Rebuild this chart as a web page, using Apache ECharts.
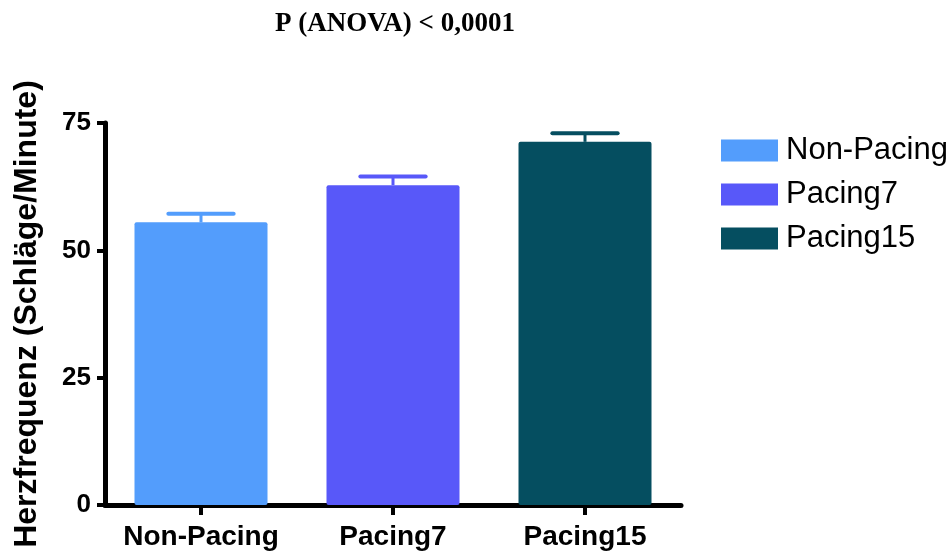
<!DOCTYPE html>
<html>
<head>
<meta charset="utf-8">
<script src="https://cdn.jsdelivr.net/npm/echarts@6/dist/echarts.min.js"></script>
<style>html,body{margin:0;padding:0;background:#fff}#chart{width:951px;height:551px}</style>
</head>
<body>
<div id="chart"></div>
<script>
var categories = ['Non-Pacing', 'Pacing7', 'Pacing15'];
var means = [55.5, 62.8, 71.3];
var sem = [1.7, 1.7, 1.7];
var yTicks = [0, 25, 50, 75];
var titleText = 'P (ANOVA) < 0,0001';
var yAxisName = 'Herzfrequenz (Schläge/Minute)';

var colors = ['#539dfc', '#5858f9', '#054e60'];

var chart = echarts.init(document.getElementById('chart'), null, {renderer: 'canvas'});

var barSeries = categories.map(function (name, i) {
  return {
    name: name,
    type: 'bar',
    barWidth: 133,
    barGap: '-100%',
    itemStyle: {color: colors[i], borderRadius: 2},
    data: means.map(function (v, j) { return j === i ? v : '-'; }),
    z: 2
  };
});

var errSeries = {
  type: 'custom',
  name: 'err',
  z: 3,
  data: categories.map(function (c, i) { return [i, means[i], means[i] + sem[i]]; }),
  renderItem: function (params, api) {
    var idx = api.value(0);
    var p0 = api.coord([idx, api.value(1)]);
    var p1 = api.coord([idx, api.value(2)]);
    var half = api.size([1, 0])[0] * 0.17;
    var c = colors[idx];
    return {
      type: 'group',
      children: [
        {type: 'line', shape: {x1: p0[0], y1: p0[1], x2: p1[0], y2: p1[1]}, style: {stroke: c, lineWidth: 3}},
        {type: 'line', shape: {x1: p1[0] - half, y1: p1[1], x2: p1[0] + half, y2: p1[1]}, style: {stroke: c, lineWidth: 4, lineCap: 'round'}}
      ]
    };
  }
};

chart.setOption({
  animation: false,
  backgroundColor: '#ffffff',
  title: {
    text: titleText,
    left: 270,
    top: 6,
    textStyle: {fontFamily: 'Liberation Serif', fontWeight: 'bold', fontSize: 27, color: '#000'}
  },
  legend: {
    orient: 'vertical',
    left: 716,
    top: 130,
    itemWidth: 57,
    itemHeight: 22,
    itemGap: 13,
    icon: 'rect',
    data: categories,
    textStyle: {fontFamily: 'Liberation Sans', fontSize: 31, color: '#000', padding: [0, 0, 0, 3]}
  },
  grid: {left: 105, right: 270, top: 123, bottom: 44, containLabel: false},
  xAxis: {
    type: 'category',
    data: categories,
    axisLine: {lineStyle: {color: '#000', width: 5}},
    axisTick: {show: true, alignWithLabel: true, length: 10, lineStyle: {color: '#000', width: 4}},
    axisLabel: {interval: 0, fontFamily: 'Liberation Sans', fontWeight: 'bold', fontSize: 28, color: '#000', margin: 18}
  },
  yAxis: {
    type: 'value',
    min: yTicks[0],
    max: yTicks[yTicks.length - 1],
    interval: 25,
    name: yAxisName,
    nameLocation: 'middle',
    nameGap: 62,
    nameTextStyle: {fontFamily: 'Liberation Sans', fontWeight: 'bold', fontSize: 32, color: '#000'},
    splitLine: {show: false},
    axisLine: {show: true, lineStyle: {color: '#000', width: 5}},
    axisTick: {show: true, length: 8, lineStyle: {color: '#000', width: 4}},
    axisLabel: {fontFamily: 'Liberation Sans', fontWeight: 'bold', fontSize: 26, color: '#000', margin: 14}
  },
  series: barSeries.concat([errSeries])
});
</script>
</body>
</html>
